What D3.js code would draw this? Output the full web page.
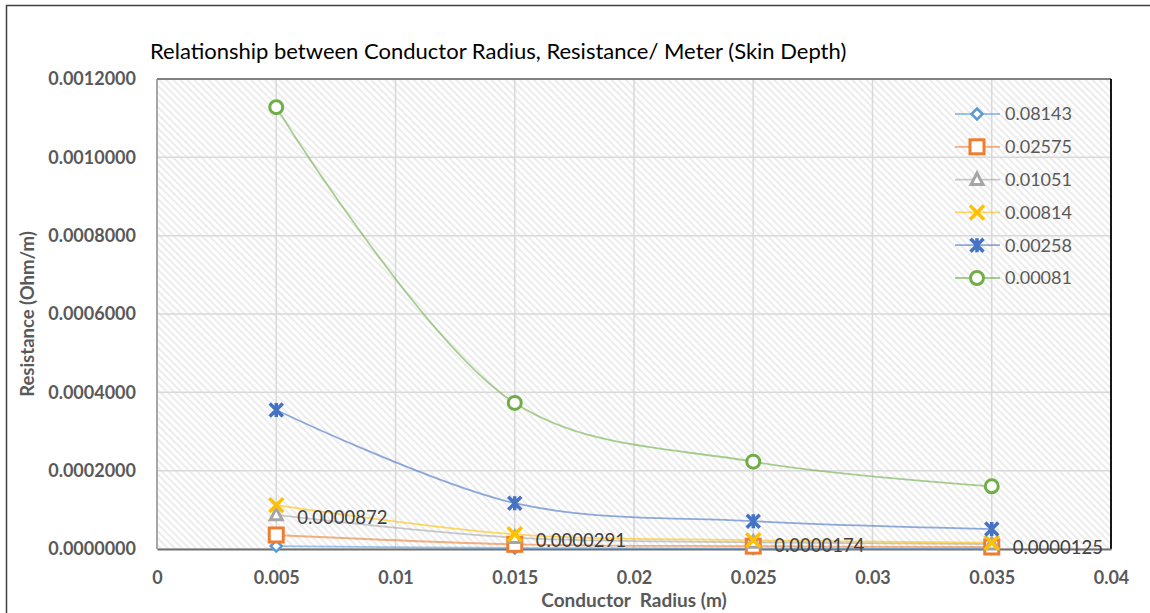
<!DOCTYPE html>
<html><head><meta charset="utf-8">
<script src="https://cdn.jsdelivr.net/npm/d3@7"></script>
<style>body{margin:0;background:#fff;} svg{display:block;font-family:Lato,"Open Sans",sans-serif;}</style>
</head><body>
<svg id="c" width="1150" height="613"></svg>
<script>
const radii = [0.005, 0.015, 0.025, 0.035];
const seriesNames = ["0.08143","0.02575","0.01051","0.00814","0.00258","0.00081"];
const s08143 = [0.0000075, 0.0000025, 0.0000015, 0.0000011];
const s02575 = [0.0000358, 0.0000119, 0.0000072, 0.0000051];
const s01051 = [0.0000872, 0.0000291, 0.0000174, 0.0000125];
const s00814 = [0.000112, 0.0000375, 0.0000225, 0.000016];
const s00258 = [0.000355, 0.000117, 0.000071, 0.000051];
const s00081 = [0.001128, 0.000373, 0.000223, 0.00016];
const seriesValues = [s08143, s02575, s01051, s00814, s00258, s00081];
const colors = ["#5B9BD5","#ED7D31","#A5A5A5","#FFC000","#4472C4","#70AD47"];
const markers = ["diamond","square","triangle","x","star","circle"];
const labelSeries = 2;
const labelTexts = ["0.0000872","0.0000291","0.0000174","0.0000125"];
const xTicks = [0,0.005,0.01,0.015,0.02,0.025,0.03,0.035,0.04];
const yTicks = [0,0.0002,0.0004,0.0006,0.0008,0.001,0.0012];

const svg = d3.select("#c");
const L=157, R=1111, T=79, B=549;
const x = d3.scaleLinear().domain([0,0.04]).range([L,R]);
const y = d3.scaleLinear().domain([0,0.0012]).range([B,T]);

// outer frame
svg.append("line").attr("x1",6.5).attr("x2",6.5).attr("y1",5).attr("y2",613).attr("stroke","#404040").attr("stroke-width",1.5);
svg.append("line").attr("x1",6).attr("x2",1150).attr("y1",5.5).attr("y2",5.5).attr("stroke","#404040").attr("stroke-width",1.5);

// hatch
const defs = svg.append("defs");
const pat = defs.append("pattern").attr("id","hatch").attr("patternUnits","userSpaceOnUse")
  .attr("width",5).attr("height",5).attr("patternTransform","rotate(-45)");
pat.append("rect").attr("width",5).attr("height",5).attr("fill","#fff");
pat.append("rect").attr("width",2).attr("height",5).attr("fill","#ececec");
svg.append("rect").attr("x",L).attr("y",T).attr("width",R-L).attr("height",B-T).attr("fill","url(#hatch)");

// grid
svg.append("g").selectAll("line").data(yTicks).join("line")
  .attr("x1",L).attr("x2",R).attr("y1",d=>y(d)).attr("y2",d=>y(d)).attr("stroke","#d9d9d9").attr("stroke-width",1.5);
svg.append("g").selectAll("line").data(xTicks).join("line")
  .attr("y1",T).attr("y2",B).attr("x1",d=>x(d)).attr("x2",d=>x(d)).attr("stroke","#d9d9d9").attr("stroke-width",1.5);

// plot border
svg.append("line").attr("x1",L).attr("x2",R).attr("y1",T).attr("y2",T).attr("stroke","#606060").attr("stroke-width",1.5);
svg.append("line").attr("x1",L).attr("x2",L).attr("y1",T).attr("y2",B).attr("stroke","#808080").attr("stroke-width",1.2);
svg.append("line").attr("x1",R).attr("x2",R).attr("y1",T).attr("y2",B).attr("stroke","#000").attr("stroke-width",1.8);

// axes
const xAxis = d3.axisBottom(x).tickValues(xTicks).tickFormat(d=>d===0?"0":String(+d.toFixed(3))).tickSize(0).tickPadding(22);
const gx = svg.append("g").attr("transform",`translate(0,${B})`).call(xAxis);
gx.select(".domain").attr("stroke","#707070").attr("stroke-width",2);
gx.selectAll("text").attr("font-size",18).attr("font-weight","bold").attr("fill","#595959").attr("font-family","Lato");
const yAxis = d3.axisLeft(y).tickValues(yTicks).tickFormat(d=>d.toFixed(7)).tickSize(0).tickPadding(21);
const gy = svg.append("g").attr("transform",`translate(${L},0)`).call(yAxis);
gy.select(".domain").remove();
gy.selectAll("text").attr("font-size",18).attr("font-weight","bold").attr("fill","#595959").attr("font-family","Lato");

// titles
svg.append("text").attr("x",150).attr("y",59).attr("font-size",22).attr("fill","#000").text("Relationship between Conductor Radius, Resistance/ Meter (Skin Depth)");
svg.append("text").attr("x",(L+R)/2).attr("y",607).attr("text-anchor","middle").attr("font-size",19).attr("font-weight","bold").attr("fill","#595959").attr("xml:space","preserve").text("Conductor  Radius (m)");
svg.append("text").attr("transform",`translate(34,${(T+B)/2}) rotate(-90)`).attr("text-anchor","middle").attr("font-size",18.5).attr("font-weight","bold").attr("fill","#595959").text("Resistance (Ohm/m)");

function drawMarker(g, type, color, cx, cy){
  const sw=3;
  if(type==="circle") g.append("circle").attr("cx",cx).attr("cy",cy).attr("r",6.5).attr("fill","#fff").attr("stroke",color).attr("stroke-width",sw);
  else if(type==="square") g.append("rect").attr("x",cx-7).attr("y",cy-7).attr("width",14).attr("height",14).attr("fill","#fff").attr("stroke",color).attr("stroke-width",sw);
  else if(type==="diamond") g.append("path").attr("d",`M${cx},${cy-5.5}L${cx+5.5},${cy}L${cx},${cy+5.5}L${cx-5.5},${cy}Z`).attr("fill","#fff").attr("stroke",color).attr("stroke-width",2.5);
  else if(type==="triangle") g.append("path").attr("d",`M${cx},${cy-6.5}L${cx+6},${cy+5}L${cx-6},${cy+5}Z`).attr("fill","#fff").attr("stroke",color).attr("stroke-width",sw);
  else if(type==="x") g.append("path").attr("d",`M${cx-7},${cy-7}L${cx+7},${cy+7}M${cx+7},${cy-7}L${cx-7},${cy+7}`).attr("stroke",color).attr("stroke-width",3.5);
  else if(type==="star") g.append("path").attr("d",`M${cx-6.5},${cy-6.5}L${cx+6.5},${cy+6.5}M${cx+6.5},${cy-6.5}L${cx-6.5},${cy+6.5}M${cx},${cy-7}L${cx},${cy+7}`).attr("stroke",color).attr("stroke-width",3.5);
}

const line = d3.line().x(d=>x(d[0])).y(d=>y(d[1])).curve(d3.curveCatmullRom.alpha(0.5));
seriesValues.forEach((vals,i)=>{
  const pts = radii.map((r,j)=>[r,vals[j]]);
  svg.append("path").datum(pts).attr("d",line).attr("fill","none").attr("stroke",colors[i]).attr("stroke-opacity",0.6).attr("stroke-width",1.8);
});
seriesValues.forEach((vals,i)=>{
  const g = svg.append("g");
  radii.forEach((r,j)=>drawMarker(g, markers[i], colors[i], x(r), y(vals[j])));
});
// data labels
svg.append("g").selectAll("text").data(radii).join("text")
  .attr("x",d=>x(d)+21).attr("y",(d,j)=>y(seriesValues[labelSeries][j])+3).attr("dy","0.35em")
  .attr("font-size",18.5).attr("fill","#404040").text((d,j)=>labelTexts[j]);

// legend
const lg = svg.append("g");
seriesNames.forEach((n,i)=>{
  const yy = 114 + i*32.8;
  lg.append("line").attr("x1",955).attr("x2",1000).attr("y1",yy).attr("y2",yy).attr("stroke",colors[i]).attr("stroke-opacity",0.6).attr("stroke-width",1.8);
  drawMarker(lg, markers[i], colors[i], 977, yy);
  lg.append("text").attr("x",1005).attr("y",yy).attr("dy","0.35em").attr("font-size",18).attr("fill","#595959").text(n);
});
</script>
</body></html>
